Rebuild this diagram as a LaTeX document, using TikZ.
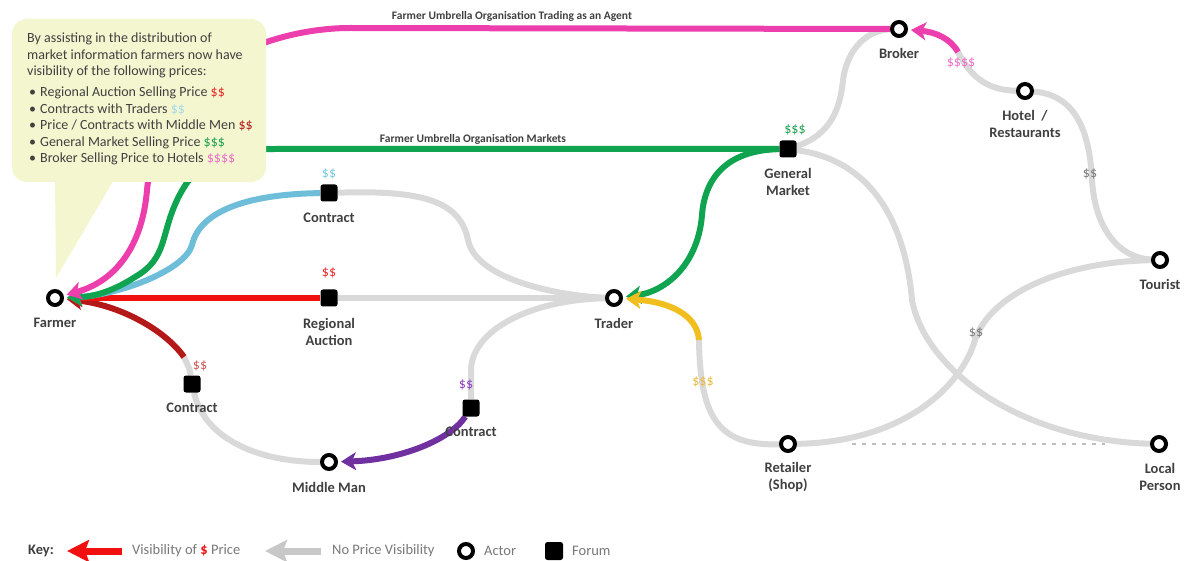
\documentclass[tikz,border=0pt]{standalone}
\usepackage{fontspec}
\setmainfont{Carlito}
\usetikzlibrary{arrows.meta}
\definecolor{cGray}{RGB}{217,217,217}
\definecolor{cKeyGray}{RGB}{200,200,200}
\definecolor{cPink}{RGB}{236,62,172}
\definecolor{cGreen}{RGB}{16,163,80}
\definecolor{cBlue}{RGB}{110,190,218}
\definecolor{cRed}{RGB}{240,16,16}
\definecolor{cDark}{RGB}{180,24,24}
\definecolor{cPurple}{RGB}{112,48,160}
\definecolor{cYellow}{RGB}{240,190,30}
\definecolor{cText}{RGB}{64,64,64}
\definecolor{cKeyText}{RGB}{120,120,120}
\definecolor{cCallout}{RGB}{244,246,208}
\definecolor{pRed}{RGB}{230,40,40}
\definecolor{pBlue}{RGB}{120,200,225}
\definecolor{pLightBlue}{RGB}{165,218,232}
\definecolor{pGreen}{RGB}{30,160,80}
\definecolor{pPink}{RGB}{236,110,200}
\definecolor{pBrown}{RGB}{200,90,85}
\definecolor{pPurple}{RGB}{140,60,200}
\definecolor{pYellow}{RGB}{235,185,60}
\definecolor{pGray}{RGB}{120,120,120}
\definecolor{cDash}{RGB}{190,190,190}
\pgfdeclarelayer{bg}
\pgfsetlayers{bg,main}
\begin{document}
\begin{tikzpicture}[x=1pt,y=-1pt,
  actor/.style={circle,draw=black,line width=4pt,fill=white,minimum size=14pt,inner sep=0pt},
  forum/.style={rectangle,fill=black,minimum size=17pt,rounded corners=2.5pt,inner sep=0pt},
  lbl/.style={font=\fontsize{14.5}{17.5}\selectfont\bfseries,text=cText,align=center,inner sep=0pt},
  price/.style={font=\fontsize{14}{16}\selectfont,inner sep=0pt},
  toplbl/.style={font=\fontsize{11.5}{13}\selectfont\bfseries,text=cText,inner sep=0pt},
  keytext/.style={font=\fontsize{14.5}{17}\selectfont,text=cKeyText,inner sep=0pt,anchor=west},
  notetext/.style={font=\fontsize{14}{16.5}\selectfont,text=cText,align=left,inner sep=0pt,anchor=north west},
  gline/.style={draw=cGray,line width=6pt},
  vis/.style={draw=#1,line width=6pt,-{Stealth[length=15pt,width=18pt,inset=4pt]},shorten >=3pt},
  keyarrow/.style={draw=#1,line width=7pt,-{Stealth[length=22pt,width=22pt,inset=4pt]}}
]
\useasboundingbox (0,0) rectangle (1189,561);

% callout
\fill[cCallout,rounded corners=15pt] (12,19) rectangle (266,182);
\fill[cCallout] (55,178) -- (115,178) -- (56,278) -- cycle;
\node[notetext] (note) at (27,33) {By assisting in the distribution of\\
market information farmers now have\\
visibility of the following prices:\\[4.5pt]
\hspace{2pt}\makebox[11pt][l]{\textbullet}Regional Auction Selling Price \textcolor{pRed}{\$\$}\\
\hspace{2pt}\makebox[11pt][l]{\textbullet}Contracts with Traders \textcolor{pLightBlue}{\$\$}\\
\hspace{2pt}\makebox[11pt][l]{\textbullet}Price / Contracts with Middle Men \textcolor{cDark}{\$\$}\\
\hspace{2pt}\makebox[11pt][l]{\textbullet}General Market Selling Price \textcolor{pGreen}{\$\$\$}\\
\hspace{2pt}\makebox[11pt][l]{\textbullet}Broker Selling Price to Hotels \textcolor{pPink}{\$\$\$\$}};

% top labels
\node[toplbl] (t1) at (512,16) {Farmer Umbrella Organisation Trading as an Agent};
\node[toplbl] (t2) at (473,139) {Farmer Umbrella Organisation Markets};

% actors and forums
\node[actor] (farmer) at (55,298) {};
\node[forum] (ra) at (329,298) {};
\node[actor] (trader) at (614,298) {};
\node[forum] (ct) at (329,193) {};
\node[forum] (gm) at (788,149) {};
\node[actor] (broker) at (899,29) {};
\node[actor] (hotel) at (1025,91) {};
\node[actor] (tourist) at (1160,260) {};
\node[actor] (retailer) at (788,444) {};
\node[actor] (local) at (1159,444) {};
\node[actor] (mm) at (329,462) {};
\node[forum] (bcl) at (192,384) {};
\node[forum] (bcr) at (471,408) {};

% junction points
\coordinate (hb) at (958,52);
\coordinate (ry) at (699,340);
\coordinate (dj) at (184,357);

% labels
\node[lbl] (lfarmer) at (55,323) {Farmer};
\node[lbl] (lra) at (329,332) {Regional\\Auction};
\node[lbl] (ltrader) at (614,323) {Trader};
\node[lbl] (lct) at (329,218) {Contract};
\node[lbl] (lgm) at (788,182) {General\\Market};
\node[lbl] (lbroker) at (899,53) {Broker};
\node[lbl] (lhotel) at (1025,124) {Hotel~~/\\Restaurants};
\node[lbl] (ltourist) at (1160,284) {Tourist};
\node[lbl] (lretailer) at (788,477) {Retailer\\(Shop)};
\node[lbl] (llocal) at (1160,477) {Local\\Person};
\node[lbl] (lmm) at (329,487) {Middle Man};
\node[lbl] (lbcl) at (192,408) {Contract};
\node[lbl] (lbcr) at (471,432) {Contract};

% prices
\node[price,text=pRed] (pra) at (329,273) {\$\$};
\node[price,text=pBlue] (pct) at (329,174) {\$\$};
\node[price,text=pGreen] (pgm) at (795,130) {\$\$\$};
\node[price,text=pPink] (pbr) at (961,63) {\$\$\$\$};
\node[price,text=pBrown] (pbcl) at (200,366) {\$\$};
\node[price,text=pPurple] (pbcr) at (466,385) {\$\$};
\node[price,text=pYellow] (pret) at (703,382) {\$\$\$};
\node[price,text=pGray] (ptour) at (976,333) {\$\$};
\node[price,text=pGray] (photel) at (1090,174) {\$\$};

% connectors
\begin{pgfonlayer}{bg}
\draw[gline] (ra) -- (trader);
\draw[gline] (ct) .. controls (420,190) and (460,200) .. (468,240) .. controls (476,280) and (560,296) .. (trader);
\draw[gline] (trader) .. controls (530,300) and (472,330) .. (471,370) -- (bcr);
\draw[gline] (mm) .. controls (260,462) and (205,440) .. (bcl);
\draw[gline] (bcl) .. controls (190,370) .. (dj);
\draw[gline] (retailer) .. controls (720,446) and (700,420) .. (ry);
\draw[gline] (gm) .. controls (830,135) and (840,110) .. (843,80) .. controls (848,45) and (870,30) .. (broker);
\draw[gline] (hotel) .. controls (985,90) and (970,75) .. (hb);
\draw[gline] (hotel) .. controls (1080,95) and (1090,140) .. (1092,180) .. controls (1095,230) and (1120,258) .. (tourist);
\draw[gline] (tourist) .. controls (1060,262) and (990,295) .. (975,340) .. controls (962,385) and (905,442) .. (retailer);
\draw[gline] (gm) .. controls (870,160) and (905,220) .. (912,300) .. controls (925,370) and (1020,440) .. (local);
\draw[draw=cDash,line width=1.2pt,dash pattern=on 4pt off 6pt,shorten <=55pt,shorten >=45pt] (retailer) -- (local);

\draw[vis=cPurple] (bcr) .. controls (450,440) and (400,460) .. (mm);
\draw[vis=cGreen] (gm) .. controls (730,150) and (705,175) .. (702,215) .. controls (698,265) and (665,292) .. (trader);
\draw[vis=cYellow] (ry) .. controls (697,315) and (670,302) .. (trader);
\draw[vis=cPink] (hb) .. controls (950,38) and (935,32) .. (broker);

\draw[vis=cDark] (dj) .. controls (165,330) and (120,305) .. (farmer);
\draw[vis=cRed] (ra) -- (farmer);
\draw[vis=cBlue] (ct) .. controls (250,194) and (200,210) .. (192,245) .. controls (185,270) and (120,295) .. (farmer);
\draw[vis=cGreen] (gm) -- (275,149) .. controls (215,149) and (195,165) .. (178,198) .. controls (160,235) and (168,258) .. (135,277) .. controls (115,290) and (95,297) .. (farmer);
\draw[vis=cPink] (broker) -- (350,28) .. controls (300,28) and (230,45) .. (190,90) .. controls (160,125) and (150,160) .. (147,190) .. controls (143,240) and (120,280) .. (farmer);
\end{pgfonlayer}

% key
\node[font=\fontsize{14.5}{17}\selectfont\bfseries,text=cText,inner sep=0pt] (keylbl) at (41,551) {Key:};
\coordinate (kra) at (122,551);
\coordinate (krb) at (67,551);
\draw[keyarrow=cRed] (kra) -- (krb);
\node[keytext] (kv) at (132,551) {Visibility of \textcolor{cRed}{\textbf{\$}} Price};
\coordinate (kga) at (321,551);
\coordinate (kgb) at (265,551);
\draw[keyarrow=cKeyGray] (kga) -- (kgb);
\node[keytext] (kn) at (332,551) {No Price Visibility};
\node[actor] (ka) at (466,551) {};
\node[keytext] (kat) at (484,551) {Actor};
\node[forum,minimum size=18pt] (kf) at (554,551) {};
\node[keytext] (kft) at (572,551) {Forum};
\end{tikzpicture}
\end{document}
